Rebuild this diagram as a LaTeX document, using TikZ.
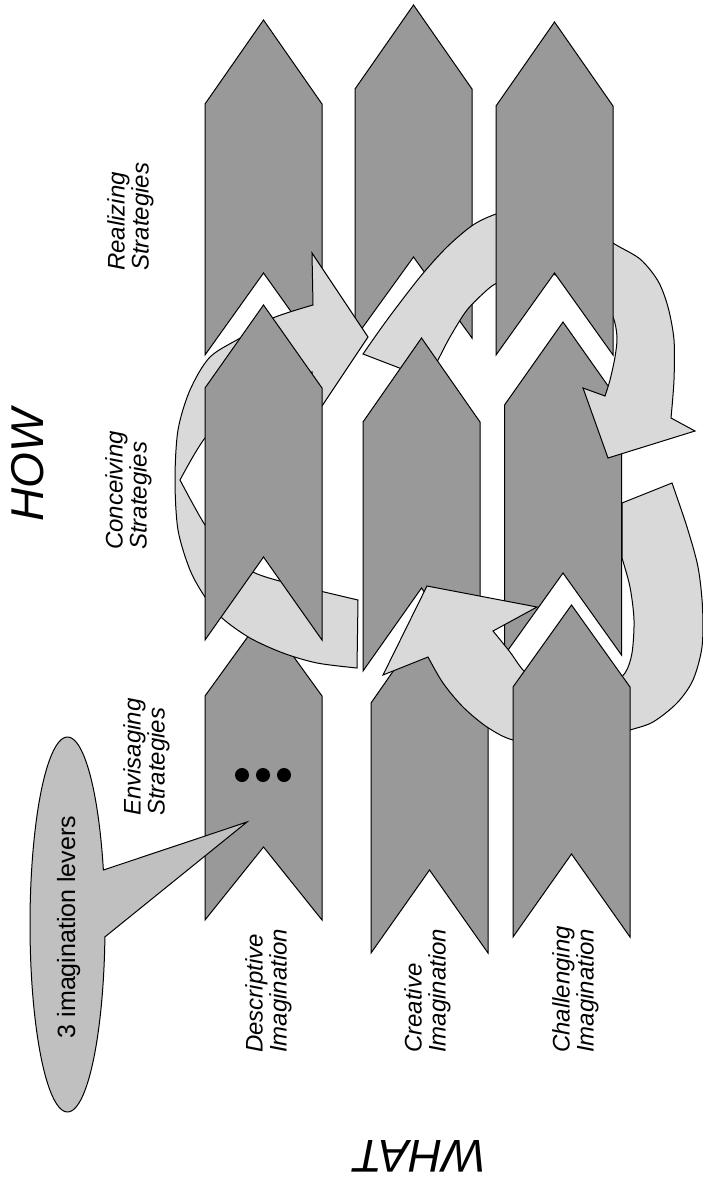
\documentclass[tikz,border=0pt]{standalone}
\usepackage{fontspec}
\setmainfont{Liberation Sans}
\definecolor{chevgray}{HTML}{999999}
\definecolor{loopgray}{HTML}{D9D9D9}
\definecolor{calloutgray}{HTML}{C0C0C0}

% chevron pointing up: centre x, apex y, shoulder y, notch y, leg bottom y
\newcommand{\drawchevron}[5]{%
  \draw[chev] (#1,#2) -- ({#1+58.5},#3) -- ({#1+58.5},#5) -- (#1,#4)
    -- ({#1-58.5},#5) -- ({#1-58.5},#3) -- cycle;}

\begin{document}
\begin{tikzpicture}[x=1pt,y=-1pt,
  chev/.style={fill=chevgray,draw=black,line width=1pt,line join=miter},
  loopband/.style={fill=loopgray,draw=black,line width=1pt,line join=miter},
  lbl/.style={rotate=90,anchor=north west,inner sep=0pt,align=left,
    font=\fontsize{24}{24}\selectfont\itshape},
  bigword/.style={inner sep=0pt,font=\fontsize{46}{46}\selectfont\itshape},
]
\useasboundingbox (0,0) rectangle (703,1180);

% back layer of chevrons
\drawchevron{413.5}{5}{89}{257}{338}     % realizing / creative
\drawchevron{263.5}{20}{104}{273}{355}   % realizing / descriptive
\drawchevron{563}{322}{405}{573}{655}    % conceiving / challenging
\drawchevron{263.5}{615}{696}{847}{920}  % envisaging / descriptive
\drawchevron{429.5}{619}{703}{870}{953}  % envisaging / creative

% left loop arrow
\draw[loopband] (357,668) -- (358,600)
  -- plot[smooth] coordinates {(358,600) (320,591) (283,582) (253,572) (228,553) (205,525) (180,480)}
  -- plot[smooth] coordinates {(180,480) (205,438) (240,405) (280,383) (312,372)}
  -- (312,421) -- (368,337) -- (312,253) -- (313,305)
  -- plot[smooth] coordinates {(313,305) (273,318) (242,337) (210,357) (190,390) (178,430) (175,480) (178,530) (190,570) (205,597) (222,618) (250,638) (283,653) (317,663) (357,668)}
  -- cycle;

% upper right loop arrow
\draw[loopband] (363,354)
  -- plot[smooth] coordinates {(363,354) (387,320) (420,277) (447,247) (473,225) (496,214) (525,206) (560,210) (590,225) (613,243) (640,259) (658,281) (668,307) (674,340) (674,380) (671,418)}
  -- (695,431) -- (608,458) -- (583,388) -- (605,396)
  -- plot[smooth] coordinates {(605,396) (610,380) (615,357) (617,337) (613,317) (600,300) (575,283) (545,272) (518,273) (497,283) (487,290) (467,310) (450,337) (438,360) (428,379)}
  -- cycle;

\drawchevron{421.5}{338}{422}{588}{671}  % conceiving / creative

% lower right loop arrow
\draw[loopband] (672,483)
  -- plot[smooth] coordinates {(672,483) (687,527) (698,567) (702.5,607) (702,647) (693,680) (677,703) (653,722) (630,730) (595,740) (555,744) (513,740) (487,727) (463,707) (443,683) (428,657)}
  -- (383,675) -- (427,586) -- (537,607) -- (493,631)
  -- plot[smooth] coordinates {(493,631) (510,652) (525,672) (550,688) (580,694) (608,687) (625,673) (632,653) (634,620) (630,587) (622,558)}
  -- (622,503) -- cycle;

% front layer of chevrons
\drawchevron{263.5}{305}{388}{557}{640}  % conceiving / descriptive
\drawchevron{554.5}{22}{106}{273}{355}   % realizing / challenging
\drawchevron{571.5}{605}{687}{854}{937}  % envisaging / challenging

% three dots
\fill (242,775) circle[radius=7];
\fill (263,775) circle[radius=7];
\fill (284,775) circle[radius=7];

% callout
\draw[fill=calloutgray,line width=1pt] (103.4,870) -- (247,822) -- (104.9,936.9)
  -- plot[domain=3.8:343.1,samples=140] ({67.5+37.5*cos(\x)},{924.5+187.5*sin(\x)})
  -- cycle;
\node[rotate=90,anchor=base,inner sep=0pt,font=\fontsize{25}{25}\selectfont] (levers) at (75,927) {3 imagination levers};

% strategy labels
\node[lbl] (realizing) at (107,271) {Realizing\\Strategies};
\node[lbl] (conceiving) at (105,550) {Conceiving\\Strategies};
\node[lbl] (envisaging) at (123,816) {Envisaging\\Strategies};

% imagination labels
\node[lbl] (descriptive) at (245,1053) {Descriptive\\Imagination};
\node[lbl] (creative) at (404,1053) {Creative\\Imagination};
\node[lbl] (challenging) at (552,1053) {Challenging\\Imagination};

% axis words
\node[bigword,rotate=90,anchor=base] (how) at (43,465) {HOW};
\node[bigword,rotate=180,anchor=base] (what) at (420,1140) {WHAT};
\end{tikzpicture}
\end{document}
